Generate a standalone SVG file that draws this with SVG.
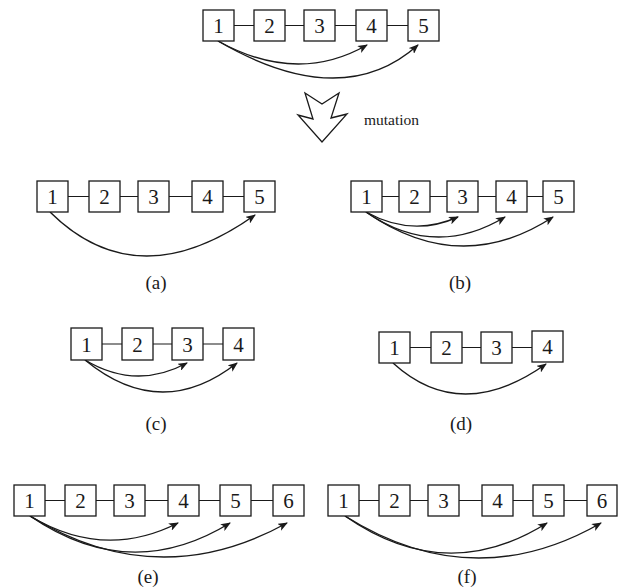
<svg xmlns="http://www.w3.org/2000/svg" width="621" height="588" viewBox="0 0 621 588">
<defs>
<style>
.box{fill:#fff;stroke:#1a1a1a;stroke-width:1.3}
.ln{stroke:#1a1a1a;stroke-width:1.2;fill:none}
.arc{stroke:#1a1a1a;stroke-width:1.4;fill:none;marker-end:url(#ah)}
.d{font-family:"Liberation Serif","Times New Roman",serif;font-size:21px;fill:#1a1a1a;text-anchor:middle}
.lb{font-family:"Liberation Serif","Times New Roman",serif;font-size:19px;fill:#1a1a1a;text-anchor:middle}
.mt{font-family:"Liberation Serif","Times New Roman",serif;font-size:15.5px;fill:#1a1a1a}
</style>
<marker id="ah" viewBox="0 0 10 8" refX="9" refY="4" markerWidth="10" markerHeight="8" markerUnits="userSpaceOnUse" orient="auto">
<path d="M0,0 L10,4 L0,8 L2.5,4 z" fill="#1a1a1a"/>
</marker>
</defs>

<!-- top -->
<g id="top">
<g class="connectors">
<path class="ln" d="M234,25.5H254M285,25.5H304M335,25.5H356M387,25.5H408"/>
<path class="arc" d="M218,41 Q297,85 367,45"/>
<path class="arc" d="M218,41 Q342,113 418,45"/>
</g>
<g id="t1"><rect class="box" x="203" y="10" width="31" height="31"/><text class="d" x="218.5" y="33">1</text></g>
<g id="t2"><rect class="box" x="254" y="10" width="31" height="31"/><text class="d" x="269.5" y="33">2</text></g>
<g id="t3"><rect class="box" x="304" y="10" width="31" height="31"/><text class="d" x="319.5" y="33">3</text></g>
<g id="t4"><rect class="box" x="356" y="10" width="31" height="31"/><text class="d" x="371.5" y="33">4</text></g>
<g id="t5"><rect class="box" x="408" y="10" width="31" height="31"/><text class="d" x="423.5" y="33">5</text></g>
</g>

<g id="mutation">
<path d="M305,93 L322,104 L339,93 L331,118 L347,114 L322,142 L298,115 L313,119 Z" fill="#fff" stroke="#1a1a1a" stroke-width="1.3" stroke-linejoin="miter"/>
<text class="mt" x="364" y="125">mutation</text>
</g>

<!-- (a) -->
<g id="a">
<g class="connectors">
<path class="ln" d="M68,196.5H89M120,196.5H138M169,196.5H192M223,196.5H244"/>
<path class="arc" d="M50,212 Q137.5,298.5 255,215"/>
</g>
<g id="a1"><rect class="box" x="37" y="181" width="31" height="31"/><text class="d" x="52.5" y="204">1</text></g>
<g id="a2"><rect class="box" x="89" y="181" width="31" height="31"/><text class="d" x="104.5" y="204">2</text></g>
<g id="a3"><rect class="box" x="138" y="181" width="31" height="31"/><text class="d" x="153.5" y="204">3</text></g>
<g id="a4"><rect class="box" x="192" y="181" width="31" height="31"/><text class="d" x="207.5" y="204">4</text></g>
<g id="a5"><rect class="box" x="244" y="181" width="31" height="31"/><text class="d" x="259.5" y="204">5</text></g>
<text class="lb" x="156" y="289">(a)</text>
</g>

<!-- (b) -->
<g id="b">
<g class="connectors">
<path class="ln" d="M382,196.5H399M430,196.5H447M478,196.5H496M527,196.5H543"/>
<path class="arc" d="M366,212 Q412,237.5 458,217"/>
<path class="arc" d="M366,212 Q434.5,259.5 505,217"/>
<path class="arc" d="M366,212 Q460.5,277.5 553,217"/>
</g>
<g id="b1"><rect class="box" x="351" y="181" width="31" height="31"/><text class="d" x="366.5" y="204">1</text></g>
<g id="b2"><rect class="box" x="399" y="181" width="31" height="31"/><text class="d" x="414.5" y="204">2</text></g>
<g id="b3"><rect class="box" x="447" y="181" width="31" height="31"/><text class="d" x="462.5" y="204">3</text></g>
<g id="b4"><rect class="box" x="496" y="181" width="31" height="31"/><text class="d" x="511.5" y="204">4</text></g>
<g id="b5"><rect class="box" x="543" y="181" width="31" height="31"/><text class="d" x="558.5" y="204">5</text></g>
<text class="lb" x="460" y="289">(b)</text>
</g>

<!-- (c) -->
<g id="c">
<g class="connectors">
<path class="ln" d="M102,344H122M153,344H172M203,344H223"/>
<path class="arc" d="M85,360 Q136,390.5 187,363"/>
<path class="arc" d="M85,360 Q161,422.5 237,363"/>
</g>
<g id="c1"><rect class="box" x="71" y="328" width="31" height="32"/><text class="d" x="86.5" y="351.5">1</text></g>
<g id="c2"><rect class="box" x="122" y="328" width="31" height="32"/><text class="d" x="137.5" y="351.5">2</text></g>
<g id="c3"><rect class="box" x="172" y="328" width="31" height="32"/><text class="d" x="187.5" y="351.5">3</text></g>
<g id="c4"><rect class="box" x="223" y="328" width="31" height="32"/><text class="d" x="238.5" y="351.5">4</text></g>
<text class="lb" x="156" y="430">(c)</text>
</g>

<!-- (d) -->
<g id="d">
<g class="connectors">
<path class="ln" d="M410,347.5H431M462,347.5H481M512,347.5H532"/>
<path class="arc" d="M393,363 Q460.5,424.5 546,364"/>
</g>
<g id="d1"><rect class="box" x="379" y="332" width="31" height="31"/><text class="d" x="394.5" y="355">1</text></g>
<g id="d2"><rect class="box" x="431" y="332" width="31" height="31"/><text class="d" x="446.5" y="355">2</text></g>
<g id="d3"><rect class="box" x="481" y="332" width="31" height="31"/><text class="d" x="496.5" y="355">3</text></g>
<g id="d4"><rect class="box" x="532" y="331" width="31" height="31"/><text class="d" x="547.5" y="354">4</text></g>
<text class="lb" x="461" y="430">(d)</text>
</g>

<!-- (e) -->
<g id="e">
<g class="connectors">
<path class="ln" d="M45,500.5H65M96,500.5H114M145,500.5H168M199,500.5H220M251,500.5H273"/>
<path class="arc" d="M30,516 Q104,560.5 178,523"/>
<path class="arc" d="M30,516 Q130,584.5 230,523"/>
<path class="arc" d="M30,516 Q157.5,594.5 287,523"/>
</g>
<g id="e1"><rect class="box" x="14" y="485" width="31" height="31"/><text class="d" x="29.5" y="508">1</text></g>
<g id="e2"><rect class="box" x="65" y="485" width="31" height="31"/><text class="d" x="80.5" y="508">2</text></g>
<g id="e3"><rect class="box" x="114" y="485" width="31" height="31"/><text class="d" x="129.5" y="508">3</text></g>
<g id="e4"><rect class="box" x="168" y="485" width="31" height="31"/><text class="d" x="183.5" y="508">4</text></g>
<g id="e5"><rect class="box" x="220" y="485" width="31" height="31"/><text class="d" x="235.5" y="508">5</text></g>
<g id="e6"><rect class="box" x="273" y="485" width="31" height="31"/><text class="d" x="288.5" y="508">6</text></g>
<text class="lb" x="148" y="583">(e)</text>
</g>

<!-- (f) -->
<g id="f">
<g class="connectors">
<path class="ln" d="M359,500.5H379M410,500.5H428M459,500.5H482M513,500.5H533M564,500.5H587"/>
<path class="arc" d="M345,516 Q446,586.5 547,523"/>
<path class="arc" d="M345,516 Q473,596.5 601,523"/>
</g>
<g id="f1"><rect class="box" x="328" y="485" width="31" height="31"/><text class="d" x="343.5" y="508">1</text></g>
<g id="f2"><rect class="box" x="379" y="485" width="31" height="31"/><text class="d" x="394.5" y="508">2</text></g>
<g id="f3"><rect class="box" x="428" y="485" width="31" height="31"/><text class="d" x="443.5" y="508">3</text></g>
<g id="f4"><rect class="box" x="482" y="485" width="31" height="31"/><text class="d" x="497.5" y="508">4</text></g>
<g id="f5"><rect class="box" x="533" y="485" width="31" height="31"/><text class="d" x="548.5" y="508">5</text></g>
<g id="f6"><rect class="box" x="587" y="485" width="30" height="31"/><text class="d" x="602" y="508">6</text></g>
<text class="lb" x="467" y="583">(f)</text>
</g>
</svg>
